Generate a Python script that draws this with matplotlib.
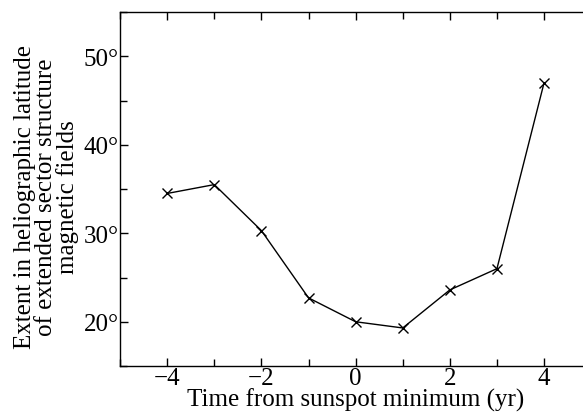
import matplotlib
matplotlib.use('Agg')
import matplotlib.pyplot as plt
from matplotlib.ticker import MultipleLocator

# data
years = [-4, -3, -2, -1, 0, 1, 2, 3, 4]
extent = [34.5, 35.5, 30.3, 22.7, 20.0, 19.3, 23.6, 26.0, 47.0]

x_ticks = [-4, -2, 0, 2, 4]
y_ticks = [20, 30, 40, 50]
y_tick_labels = ['20°', '30°', '40°', '50°']

plt.rcParams['font.family'] = ['Liberation Serif', 'DejaVu Serif']

fig = plt.figure(figsize=(5.83, 4.14), dpi=100)
ax = fig.add_axes([0.206, 0.1135, 0.808, 0.855])

ax.plot(years, extent, color='black', linewidth=1.0, marker='x',
        markersize=7, markeredgewidth=1.0)

ax.set_xlim(-5, 5)
ax.set_ylim(15, 55)
ax.set_xticks(x_ticks)
ax.set_xticklabels([str(v).replace('-', '\u2212') for v in x_ticks])
ax.set_yticks(y_ticks)
ax.set_yticklabels(y_tick_labels)
ax.xaxis.set_minor_locator(MultipleLocator(1))
ax.yaxis.set_minor_locator(MultipleLocator(5))

ax.tick_params(which='both', direction='in', top=True, right=True,
               labelsize=18, width=1.0, pad=1)
ax.tick_params(which='major', length=6)
ax.tick_params(which='minor', length=5)

for s in ax.spines.values():
    s.set_linewidth(1.0)

ax.set_xlabel('Time from sunspot minimum (yr)', fontsize=18, labelpad=-1)
ax.set_ylabel('Extent in heliographic latitude\nof extended sector structure\nmagnetic fields',
              fontsize=18, linespacing=0.95, labelpad=3)
ax.yaxis.label.set_y(0.48)

fig.savefig('out.png', dpi=100)
